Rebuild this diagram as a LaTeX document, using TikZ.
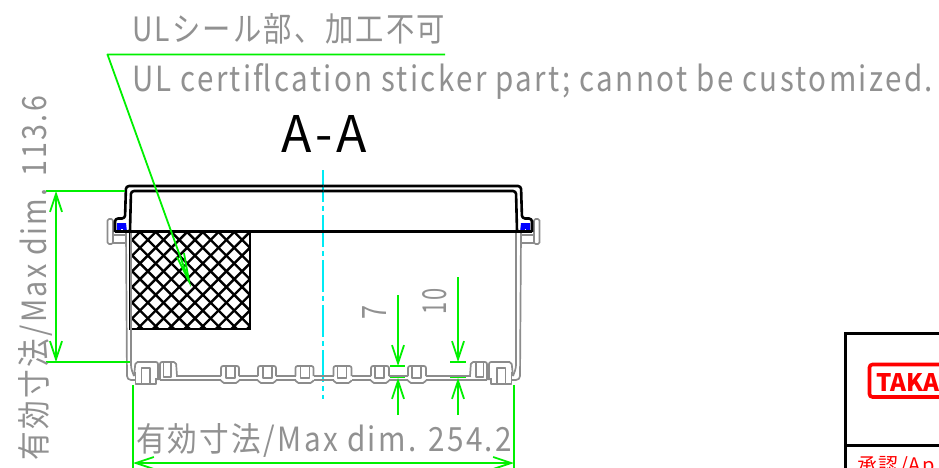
\documentclass[tikz,border=0pt]{standalone}
\usepackage{fontspec}
\usepackage{graphicx}
\usetikzlibrary{arrows.meta}
\setmainfont[LetterSpace=8]{Noto Sans CJK JP}
\definecolor{dimgreen}{RGB}{0,240,0}
\definecolor{textgray}{RGB}{145,145,145}
\definecolor{wallgray}{RGB}{140,140,140}
\definecolor{logored}{RGB}{255,0,0}
\definecolor{centrecyan}{RGB}{0,235,245}
\tikzset{
  txt/.style={inner sep=0pt,outer sep=0pt,text=textgray},
  dimline/.style={draw=dimgreen,line width=1.8pt},
  dimtip/.style={dimline,arrows={Straight Barb[length=18pt,width=12pt,line width=1.8pt]-Straight Barb[length=18pt,width=12pt,line width=1.8pt]}},
  endtip/.style={dimline,arrows={-Straight Barb[length=18pt,width=12pt,line width=1.8pt]}},
  wall/.style={draw=wallgray,line width=1.7pt,line join=round},
  lid/.style={draw=black,line width=2.6pt,line join=round},
}
\newcommand{\halfside}{%
  % flange
  \draw[wall,rounded corners=1.5pt] (113,219) -- (107.5,219) -- (107.5,244) -- (113,244) -- (113,235) -- cycle;
  \draw[wall] (113,235) -- (126,235) (113,243) -- (126,243);
  % wall
  \draw[wall,rounded corners=4pt] (126,232) -- (127,380) -- (135,380);
  \draw[wall,rounded corners=3pt] (131,232) -- (131,368) -- (134,376);
  \draw[wall,rounded corners=2pt] (134,376) -- (135.5,362) -- (158,362) -- (158,380);
  \draw[wall] (135.5,372) -- (135.5,384) -- (156,384) -- (156,378);
  \draw[wall] (141.5,384) -- (141.5,368) -- (150,368) -- (150,384);
  \draw[wall,rounded corners=2pt] (160,380) -- (160,362) -- (176,362) -- (177,376);
  \draw[wall] (160,380) -- (176,380);
  \draw[wall] (163.5,363) -- (163.5,377) -- (171,377) -- (171,363);
  % base
  \foreach \a/\b in {176/221,239/258,276/295.5,313.5/323.5}{
    \draw[wall] (\a,376) -- (\b,376) (\a,380) -- (\b,380);
  }
  \foreach \t in {221,258,295.5}{
    \draw[wall,rounded corners=2pt] (\t,376) -- (\t,366) -- (\t+18,366) -- (\t+18,376);
    \draw[wall,rounded corners=2pt] (\t,380) -- (\t+1,383) -- (\t+17,383) -- (\t+18,380);
    \draw[wall] (\t+5,366) -- (\t+5,378) -- (\t+14,378) -- (\t+14,366);
  }
  % gasket
  \fill[blue] (117,223) -- (126,223) -- (127,232) -- (117,232) -- cycle;
  \fill[white] (121,229) rectangle (122.5,232);
  % lid
  \draw[lid,rounded corners=3pt] (115,232) -- (115,218.5) -- (125,218.5) -- (126,186) -- (323.5,186);
  \draw[lid,rounded corners=3pt] (130,231) -- (131,191) -- (323.5,191);
}
\begin{document}
\begin{tikzpicture}[x=1pt,y=-1pt]
\useasboundingbox (0,0) rectangle (939,468);
\clip (0,0) rectangle (939,468);
\fill[white] (0,0) rectangle (939,468);

% hatch
\begin{scope}
  \clip (130,232) rectangle (250,329);
  \foreach \k in {-8,...,16}{
    \draw[black,line width=2.4pt] ({140+\k*15.7},232) -- ({140+\k*15.7+97},329);
    \draw[black,line width=2.4pt] ({140+\k*15.7},232) -- ({140+\k*15.7-97},329);
  }
\end{scope}
\draw[black,line width=2.6pt] (130,232) rectangle (250,329);

% centre line
\coordinate (cTop) at (323,170);
\coordinate (cBot) at (323,399);
\draw[centrecyan,line width=1.5pt,dash pattern=on 32pt off 4pt on 5pt off 4pt] (cTop) -- (cBot);

% ticks beneath the base
\draw[dimline] (390,377) -- (405,377);
\draw[dimline] (450,377) -- (466,377);

% box
\halfside
\begin{scope}[xshift=647pt,xscale=-1]
\halfside
\end{scope}
\draw[lid] (115,231.5) -- (532,231.5);

% dimension geometry
\coordinate (lA) at (445,54.5); \coordinate (lB) at (107.5,54.5); \coordinate (lC) at (189,281);
\draw[dimline,line join=round] (lA) -- (lB) -- (lC);
\draw[dimline] (177,257) -- (189,281) -- (184,253);

\coordinate (hT1) at (46,191); \coordinate (hT2) at (125,191);
\coordinate (hB1) at (46,362); \coordinate (hB2) at (130,362);
\coordinate (hU) at (56,191); \coordinate (hD) at (56,362);
\draw[dimline] (hT1) -- (hT2);
\draw[dimline] (hB1) -- (hB2);
\draw[dimtip] (hU) -- (hD);

\coordinate (wL1) at (133,385); \coordinate (wL2) at (133,468);
\coordinate (wR1) at (514,385); \coordinate (wR2) at (514,468);
\coordinate (wA) at (133,463); \coordinate (wB) at (514,463);
\draw[dimline] (wL1) -- (wL2);
\draw[dimline] (wR1) -- (wR2);
\draw[dimtip] (wA) -- (wB);

\coordinate (s1) at (398,295); \coordinate (s2) at (398,366);
\coordinate (s3) at (398,415); \coordinate (s4) at (398,378);
\draw[endtip] (s1) -- (s2);
\draw[endtip] (s3) -- (s4);
\draw[dimline] (390,366) -- (405,366);
\coordinate (t1) at (458,277); \coordinate (t2) at (458,362);
\coordinate (t3) at (458,415); \coordinate (t4) at (458,378);
\draw[endtip] (t1) -- (t2);
\draw[endtip] (t3) -- (t4);
\draw[dimline] (450,362) -- (466,362);

% texts
\node[txt,anchor=base west] (ja) at (132,42) {\resizebox{313pt}{28pt}{ULシール部、加工不可}};
\node[txt,anchor=base west] (en) at (132,92) {\resizebox{801pt}{28pt}{UL certiflcation sticker part; cannot be customized.}};
\node[txt,anchor=base west,text=black] (aa) at (281,153) {\resizebox{86pt}{37pt}{A-A}};
\node[txt,anchor=base west] (wd) at (136,451) {\resizebox{376pt}{28pt}{有効寸法/Max dim. 254.2}};
\node[txt,anchor=base west,rotate=90] (ht) at (46,460) {\resizebox{364pt}{28pt}{有効寸法/Max dim. 113.6}};
\node[txt,anchor=base west,rotate=90] (seven) at (386,319) {\resizebox{14pt}{24pt}{7}};
\node[txt,anchor=base west,rotate=90] (ten) at (446,314) {\resizebox{26pt}{24pt}{10}};

% title block
\draw[black,line width=2.6pt] (939,333.5) -- (845.5,333.5) -- (845.5,468);
\coordinate (tbL) at (845.5,445.5); \coordinate (tbR) at (939,445.5);
\draw[black,line width=2.6pt] (tbL) -- (tbR);
\draw[logored,line width=3.6pt,rounded corners=3pt] (960,364.5) -- (869.5,364.5) -- (869.5,397) -- (960,397);
\node[inner sep=0pt,text=logored,anchor=base west] (logo) at (876,391) {\resizebox{63pt}{18pt}{\bfseries\addfontfeature{LetterSpace=0}TAKA}};
\node[inner sep=0pt,text=logored,anchor=base west] (appr) at (857,472) {\fontsize{20pt}{20pt}\selectfont 承認/Ap};
\end{tikzpicture}
\end{document}
